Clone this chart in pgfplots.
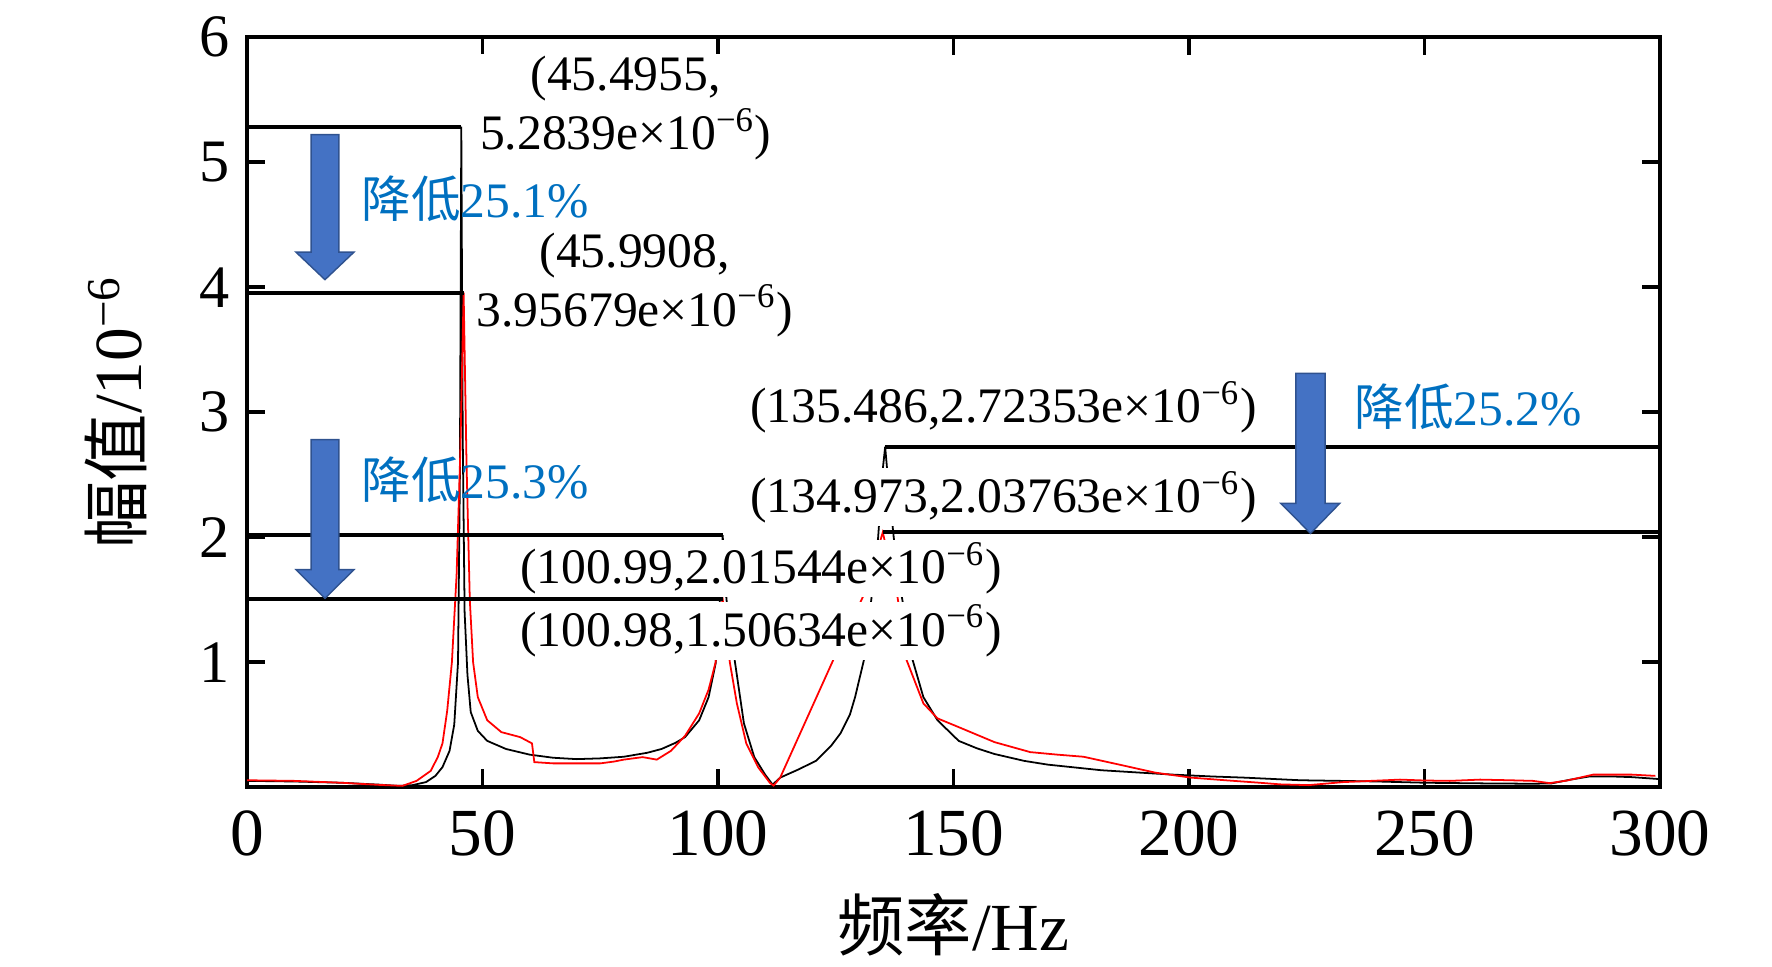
\documentclass[border=0pt]{standalone}
\usepackage{fontspec}
\setmainfont{Liberation Serif}
\newfontfamily\cjk{Noto Sans CJK SC}
\usepackage{pgfplots}
\pgfplotsset{compat=1.18}
\definecolor{arrowblue}{HTML}{4472C4}
\definecolor{arrowedge}{HTML}{2F528F}
\definecolor{txtblue}{HTML}{0070C0}
\begin{document}
\begin{tikzpicture}
\begin{axis}[
  scale only axis, width=398.7pt, height=211.6pt,
  xmin=0, xmax=300, ymin=0, ymax=6,
  xtick={0,50,...,300}, ytick={1,2,3,4,5,6},
  tick align=inside, major tick length=5pt,
  every tick/.style={black, line width=1pt},
  axis line style={line width=1.2pt},
  /pgf/number format/assume math mode=true,
  xticklabel style={font=\fontsize{19}{22}\selectfont, yshift=-3pt},
  yticklabel style={font=\fontsize{17}{20}\selectfont, xshift=-1.5pt},
  xlabel={{\cjk 频率}/Hz},
  ylabel={{\cjk 幅值}/10\textsuperscript{−6}},
  label style={font=\fontsize{19}{22}\selectfont},
  xlabel style={at={(axis description cs:0.5,-0.184)}, anchor=center},
  ylabel style={at={(axis description cs:-0.0928,0.5)}, anchor=center},
  clip=false,
]
% original (black)
\addplot[black, line width=0.5pt] coordinates {
(0,0.050) (10,0.045) (20,0.035) (28,0.020) (32,0.010) (35,0.015) (38,0.040)
(40,0.090) (41.5,0.160) (43,0.290) (44,0.500) (44.8,1.00) (45.2,2.50)
(45.4955,5.2839) (45.8,2.80) (46.2,1.40) (46.8,0.90) (47.5,0.600) (49,0.450)
(51,0.370) (55,0.305) (60,0.260) (65,0.235) (70,0.224) (75,0.230) (80,0.243)
(85,0.275) (88,0.305) (91,0.355) (93,0.400) (96,0.535) (98,0.720) (99.5,0.990)
(100.4,1.500) (100.99,2.01544) (101.8,1.500) (103.6,1.000) (105.5,0.510)
(107.7,0.240) (110,0.100) (111.6,0.020) (113.2,0.076) (117,0.140) (120.8,0.210)
(124,0.330) (126,0.430) (128,0.580) (129.1,0.720) (131,1.020) (132.7,1.550)
(134,2.000) (135,2.550) (135.486,2.72353) (136,2.500) (137.3,2.000) (138.9,1.550)
(141.3,1.020) (143.6,0.720) (146.6,0.535) (151.1,0.370) (155,0.310) (158.7,0.265)
(165,0.210) (170,0.180) (181.4,0.135) (190,0.115) (196.6,0.100) (205,0.085)
(211.7,0.076) (223.6,0.055) (232,0.050) (240,0.045) (250,0.035) (262,0.030)
(273,0.027) (277,0.030) (281,0.060) (285,0.085) (290,0.085) (294,0.080) (300,0.064)
};
% optimised (red)
\addplot[red, line width=0.5pt] coordinates {
(0,0.055) (10,0.050) (20,0.035) (28,0.018) (33,0.010) (36,0.050) (39,0.130)
(40.5,0.240) (41.5,0.350) (42.5,0.610) (43.5,1.000) (44.5,1.700) (45.3,2.700)
(45.9908,3.95679) (46.6,2.600) (47.3,1.500) (48,1.000) (49,0.720) (51,0.535)
(54,0.440) (58,0.400) (60.5,0.350) (61,0.200) (65,0.190) (70,0.190) (75,0.190)
(78,0.205) (80,0.220) (84,0.240) (87,0.220) (90,0.290) (93,0.410) (96,0.590)
(98,0.780) (99.5,1.000) (100.3,1.350) (100.98,1.50634) (101.7,1.300) (102.5,1.000)
(104,0.670) (106,0.350) (108.5,0.160) (111,0.035) (111.8,0.012) (113.2,0.076)
(124.5,1.020) (128,1.300) (131.1,1.550) (133.5,1.850) (134.973,2.03763)
(136.5,1.800) (138,1.550) (140,1.020) (143.6,0.670) (146.6,0.550) (151.1,0.480)
(158.7,0.360) (166.3,0.280) (172,0.260) (177.6,0.243) (185.2,0.180) (192.8,0.116)
(200.4,0.076) (208,0.054) (215,0.035) (219.4,0.022) (225.4,0.016) (232.7,0.040)
(244.8,0.060) (250,0.053) (255.4,0.050) (261.8,0.060) (268,0.055) (273,0.050)
(276.6,0.032) (280.3,0.053) (285.8,0.100) (294,0.100) (299,0.090)
};
% data-tip lines
\addplot[black, line width=1.1pt] coordinates {(0,5.2839) (45.4955,5.2839)};
\addplot[black, line width=1.1pt] coordinates {(0,3.95679) (45.9908,3.95679)};
\addplot[black, line width=1.1pt] coordinates {(0,2.01544) (100.99,2.01544)};
\addplot[black, line width=1.1pt] coordinates {(0,1.50634) (100.98,1.50634)};
\addplot[black, line width=1.1pt] coordinates {(135.486,2.72353) (300,2.72353)};
\addplot[black, line width=1.1pt] coordinates {(134.973,2.03763) (300,2.03763)};
% arrows
\filldraw[fill=arrowblue, draw=arrowedge, line width=0.4pt]
  (axis cs:13.6,5.22) -- (axis cs:19.5,5.22) -- (axis cs:19.5,4.28) -- (axis cs:22.7,4.28)
  -- (axis cs:16.55,4.06) -- (axis cs:10.4,4.28) -- (axis cs:13.6,4.28) -- cycle;
\filldraw[fill=arrowblue, draw=arrowedge, line width=0.4pt]
  (axis cs:13.6,2.78) -- (axis cs:19.5,2.78) -- (axis cs:19.5,1.74) -- (axis cs:22.7,1.74)
  -- (axis cs:16.55,1.51) -- (axis cs:10.4,1.74) -- (axis cs:13.6,1.74) -- cycle;
\filldraw[fill=arrowblue, draw=arrowedge, line width=0.4pt]
  (axis cs:222.7,3.31) -- (axis cs:228.9,3.31) -- (axis cs:228.9,2.27) -- (axis cs:232,2.27)
  -- (axis cs:225.8,2.03) -- (axis cs:219.5,2.27) -- (axis cs:222.7,2.27) -- cycle;
% blue texts
\node[anchor=west, inner sep=0pt, text=txtblue, font=\fontsize{14}{16}\selectfont] at (axis cs:24.2,4.71) {{\cjk 降低}25.1\%};
\node[anchor=west, inner sep=0pt, text=txtblue, font=\fontsize{14}{16}\selectfont] at (axis cs:24.2,2.46) {{\cjk 降低}25.3\%};
\node[anchor=west, inner sep=0pt, text=txtblue, font=\fontsize{14}{16}\selectfont] at (axis cs:235,3.04) {{\cjk 降低}25.2\%};
% data tips
\tikzset{tip/.style={fill=white, inner sep=0.8pt, align=center, font=\fontsize{14}{16.7}\selectfont}}
\node[tip] at (axis cs:80.4,5.43) {(45.4955,\\5.2839e×10\textsuperscript{−6})};
\node[tip] at (axis cs:82.3,4.02) {(45.9908,\\3.95679e×10\textsuperscript{−6})};
\node[tip] at (axis cs:160.6,3.04) {(135.486,2.72353e×10\textsuperscript{−6})};
\node[tip] at (axis cs:160.6,2.32) {(134.973,2.03763e×10\textsuperscript{−6})};
\node[tip] at (axis cs:109.1,1.75) {(100.99,2.01544e×10\textsuperscript{−6})};
\node[tip] at (axis cs:109.1,1.25) {(100.98,1.50634e×10\textsuperscript{−6})};
\end{axis}
\pgfresetboundingbox
\useasboundingbox (-69.7pt,-50.5pt) rectangle (430.3pt,222.1pt);
\end{tikzpicture}
\end{document}
